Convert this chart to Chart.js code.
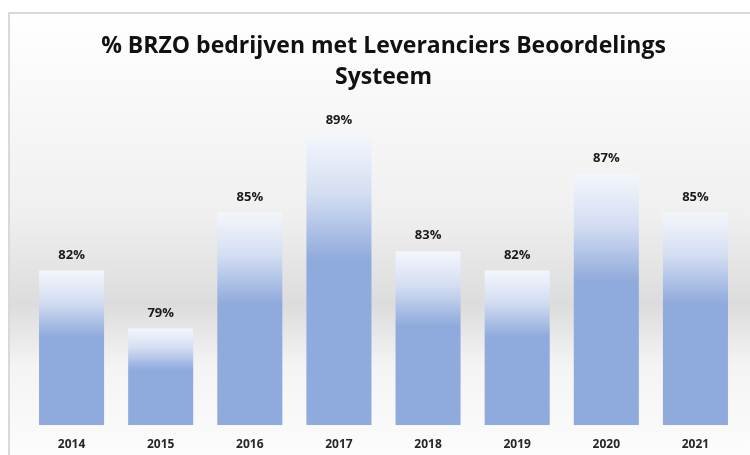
<!DOCTYPE html>
<html>
<head>
<meta charset="utf-8">
<script src="https://cdn.jsdelivr.net/npm/chart.js@4"></script>
<style>
    html, body { margin: 0; padding: 0; background: #fff; }
    #wrap { position: relative; width: 750px; height: 455px; }
</style>
</head>
<body>
<div id="wrap"><canvas id="brzoChart" width="750" height="455"></canvas></div>
<script>
const years = ['2014', '2015', '2016', '2017', '2018', '2019', '2020', '2021'];
const percentages = [82, 79, 85, 89, 83, 82, 87, 85];
const titleLines = ['% BRZO bedrijven met Leveranciers Beoordelings', 'Systeem'];
const yMin = 74;
const yMax = 90;

const barBlue = '#8faadc';

// frame + grey band background, like the office chart style
const backgroundPlugin = {
    id: 'frameBackground',
    beforeDraw(chart) {
        const ctx = chart.ctx;
        const g = ctx.createLinearGradient(0, 12, 0, 455);
        g.addColorStop(0, '#ffffff');
        g.addColorStop(0.2, '#f8f8f8');
        g.addColorStop(0.45, '#f0f0f0');
        g.addColorStop(0.66, '#dcdcdc');
        g.addColorStop(0.8, '#f4f4f4');
        g.addColorStop(1, '#fcfcfc');
        ctx.save();
        ctx.fillStyle = g;
        ctx.fillRect(9, 13, 741, 442);
        ctx.strokeStyle = '#d9d9d9';
        ctx.lineWidth = 2;
        ctx.beginPath();
        ctx.moveTo(9, 455);
        ctx.lineTo(9, 13);
        ctx.lineTo(750, 13);
        ctx.stroke();
        ctx.restore();
    }
};

// percentage labels above the bars
const valueLabels = {
    id: 'valueLabels',
    afterDatasetsDraw(chart) {
        const ctx = chart.ctx;
        const meta = chart.getDatasetMeta(0);
        ctx.save();
        ctx.font = 'bold 13px "Open Sans", sans-serif';
        ctx.fillStyle = '#1a1a1a';
        ctx.textAlign = 'center';
        ctx.textBaseline = 'bottom';
        meta.data.forEach(function(bar, i) {
            ctx.fillText(percentages[i] + '%', bar.x, bar.y - 9);
        });
        ctx.restore();
    }
};

function barGradient(context) {
    const chart = context.chart;
    if (!chart.chartArea || context.type !== 'data') {
        return barBlue;
    }
    const y = chart.scales.y;
    const top = y.getPixelForValue(context.raw);
    const base = y.getPixelForValue(yMin);
    const g = chart.ctx.createLinearGradient(0, top, 0, base);
    g.addColorStop(0, '#f4f6fc');
    g.addColorStop(0.2, '#d4def2');
    g.addColorStop(0.43, barBlue);
    g.addColorStop(1, barBlue);
    return g;
}

const brzoCanvas = document.getElementById('brzoChart').getContext('2d');

const brzoChart = new Chart(brzoCanvas, {
    type: 'bar',
    data: {
        labels: years,
        datasets: [{
            label: '% BRZO',
            data: percentages,
            backgroundColor: barGradient,
            borderWidth: 0,
            categoryPercentage: 0.73,
            barPercentage: 1
        }]
    },
    options: {
        responsive: false,
        animation: false,
        layout: {
            padding: { left: 27, right: 10, top: 0, bottom: 0 }
        },
        plugins: {
            legend: { display: false },
            tooltip: { enabled: false },
            title: {
                display: true,
                text: titleLines,
                color: '#111111',
                font: { family: '"Open Sans", sans-serif', size: 23, weight: 'bold', lineHeight: 1.35 },
                padding: { top: 31, bottom: 23 }
            }
        },
        scales: {
            x: {
                grid: { display: false, drawTicks: false },
                border: { display: false },
                ticks: {
                    color: '#262626',
                    padding: 12,
                    font: { family: '"Open Sans", sans-serif', size: 12, weight: 'bold' }
                },
                afterFit: function(scale) {
                    scale.height = 30;
                }
            },
            y: {
                display: false,
                min: yMin,
                max: yMax
            }
        }
    },
    plugins: [backgroundPlugin, valueLabels]
});
</script>
</body>
</html>
